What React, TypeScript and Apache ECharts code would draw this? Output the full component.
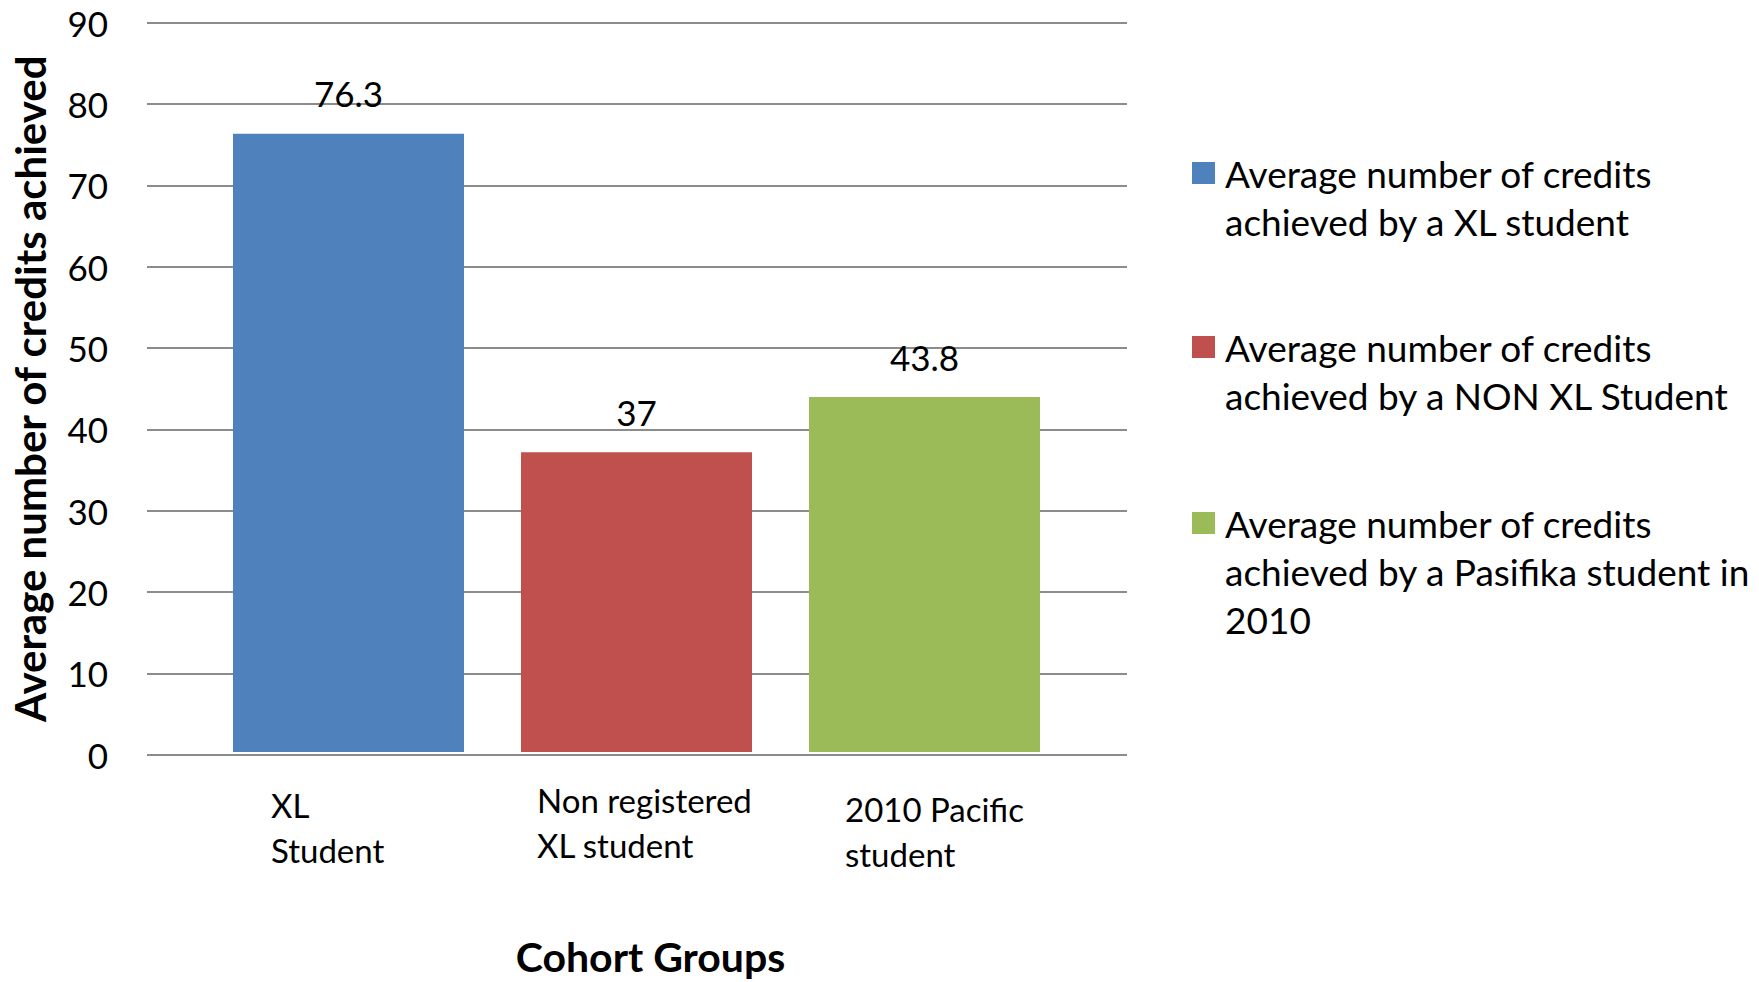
import React, { useEffect, useRef } from "react";
import * as echarts from "echarts";

const categories = ["XL\nStudent", "Non registered\nXL student", "2010 Pacific\nstudent"];
const values = [76.3, 37, 43.8];
const seriesNames = [
  "Average number of credits\nachieved by a XL student",
  "Average number of credits\nachieved by a NON XL Student",
  "Average number of credits\nachieved by a Pasifika student in\n2010",
];
const colors = ["#4F81BD", "#C0504D", "#9BBB59"];
const yMin = 0;
const yMax = 90;
const yInterval = 10;
const yTitle = "Average number of credits achieved";
const xTitle = "Cohort Groups";

const FONT = "Lato, 'Noto Sans', sans-serif";

export default function App() {
  const ref = useRef<HTMLDivElement>(null);
  useEffect(() => {
    document.body.style.margin = "0";
    if (!ref.current) return;
    const chart = echarts.init(ref.current, undefined, { renderer: "svg" });

    // layout constants
    const gridTop = 22.7;
    const gridBottom = 982 - 754.7;
    const lineH = 48;
    const legendTops = [101, 275, 403];
    const labelWidths = [155, 199, 159];
    const labelShift = [5, 0, 9];

    const rich: Record<string, any> = {};
    categories.forEach((_, i) => {
      rich["a" + i] = {
        fontFamily: FONT,
        fontSize: 33,
        color: "#000",
        width: labelWidths[i],
        align: "left",
        lineHeight: 45 + 2 * labelShift[i],
      };
      rich["b" + i] = {
        fontFamily: FONT,
        fontSize: 33,
        color: "#000",
        width: labelWidths[i],
        align: "left",
        lineHeight: 45 - 2 * labelShift[i],
      };
    });

    const series = values.map((_, i) => ({
      name: seriesNames[i],
      type: "bar",
      xAxisIndex: 1,
      yAxisIndex: 1,
      barWidth: 231,
      barGap: "-100%",
      data: values.map((v, j) => (j === i ? v : "-")),
      itemStyle: { color: colors[i] },
      label: {
        show: true,
        position: "top",
        distance: 23,
        fontFamily: FONT,
        fontSize: 35,
        lineHeight: 35,
        color: "#000",
      },
    }));

    const legends = seriesNames.map((name, i) => {
      const n = name.split("\n").length;
      return {
        orient: "vertical",
        left: 1192,
        top: legendTops[i],
        padding: 0,
        itemWidth: 23,
        itemHeight: 22,
        selectedMode: false,
        icon: "rect",
        formatter: (nm: string) => "\n".repeat(n - 1) + nm,
        data: [
          {
            name,
            textStyle: {
              fontFamily: FONT,
              fontSize: 37,
              lineHeight: lineH,
              color: "#000",
              padding: [0, 0, 0, 5],
            },
          },
        ],
      };
    });

    chart.setOption({
      animation: false,
      backgroundColor: "#fff",
      grid: [
        { left: 147, width: 980, top: gridTop, bottom: gridBottom },
        { left: 204.5, width: 864, top: gridTop, bottom: gridBottom },
      ],
      legend: legends,
      xAxis: [
        { type: "category", gridIndex: 0, data: categories, show: false },
        {
          type: "category",
          gridIndex: 1,
          data: categories,
          axisLine: { show: false },
          axisTick: { show: false },
          axisLabel: {
            margin: 25,
            interval: 0,
            align: "center",
            verticalAlign: "top",
            formatter: (v: string, idx: number) => {
              const parts = v.split("\n");
              return `{a${idx}|${parts[0]}}\n{b${idx}|${parts[1]}}`;
            },
            rich,
          },
          name: xTitle,
          nameLocation: "middle",
          nameGap: 184,
          nameTextStyle: {
            fontFamily: FONT,
            fontSize: 41,
            fontWeight: "bold",
            color: "#000",
            lineHeight: 41,
            padding: [0, 0, 0, 28],
          },
        },
      ],
      yAxis: [
        {
          type: "value",
          gridIndex: 0,
          min: yMin,
          max: yMax,
          interval: yInterval,
          axisLine: { show: false },
          axisTick: { show: false },
          splitLine: { lineStyle: { color: "#8c8c8c", width: 2 } },
          axisLabel: {
            margin: 39,
            fontFamily: FONT,
            fontSize: 35,
            color: "#000",
          },
          name: yTitle,
          nameLocation: "middle",
          nameGap: 96,
          nameTextStyle: {
            fontFamily: FONT,
            fontSize: 42,
            fontWeight: "bold",
            color: "#000",
          },
        },
        {
          type: "value",
          gridIndex: 1,
          min: yMin,
          max: yMax,
          interval: yInterval,
          show: false,
          splitLine: { show: false },
        },
      ],
      series,
    });
    return () => chart.dispose();
  }, []);
  return <div ref={ref} style={{ width: 1759, height: 982 }} />;
}
